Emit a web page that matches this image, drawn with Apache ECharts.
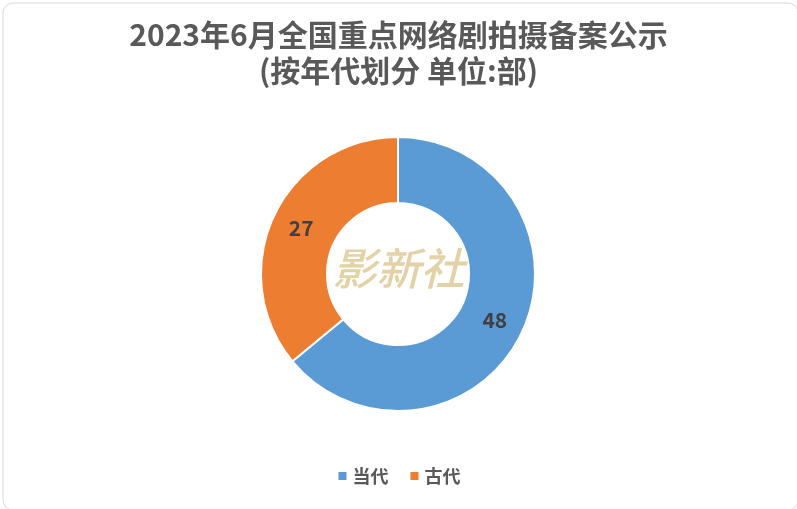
<!DOCTYPE html>
<html>
<head>
<meta charset="utf-8">
<script src="https://cdn.jsdelivr.net/npm/echarts@6/dist/echarts.min.js"></script>
<style>
html,body{margin:0;padding:0;background:#fff;}
#chart{width:797px;height:509px;}
</style>
</head>
<body>
<div id="chart"></div>
<script>
const titleLines = ['2023年6月全国重点网络剧拍摄备案公示', '(按年代划分 单位:部)'];
const categories = ['当代', '古代'];
const values = [48, 27];
const colors = ['#5B9BD5', '#ED7D31'];
const watermark = '影新社';

const FONT = '"Noto Sans CJK SC", "Noto Sans", sans-serif';
const chart = echarts.init(document.getElementById('chart'), null, {renderer: 'canvas'});
chart.setOption({
  backgroundColor: '#fff',
  title: {
    text: titleLines.join('\n'),
    left: 'center',
    top: 12,
    textStyle: {
      fontFamily: FONT, fontSize: 30, fontWeight: 'bold', color: '#595959', lineHeight: 36
    }
  },
  legend: {
    data: categories,
    top: 462,
    left: 'center',
    icon: 'rect',
    itemWidth: 10,
    itemHeight: 10,
    itemGap: 20,
    textStyle: {fontFamily: FONT, fontSize: 18, fontWeight: 'bold', color: '#595959'}
  },
  graphic: [
    {
      type: 'rect', left: 0.5, top: 0.5, silent: true, z: -1,
      shape: {width: 795, height: 507, r: 10},
      style: {fill: 'none', stroke: '#D9D9D9', lineWidth: 1}
    },
    {
      type: 'text', left: 'center', top: 246, z: 10, silent: true,
      style: {
        text: watermark, fill: '#E2D2A6',
        font: 'italic 500 44px "Noto Sans CJK SC", serif'
      }
    }
  ],
  series: [{
    type: 'pie',
    center: [398, 274],
    radius: [71, 137],
    startAngle: 90,
    clockwise: true,
    avoidLabelOverlap: false,
    itemStyle: {borderColor: '#fff', borderWidth: 2},
    label: {
      show: true, position: 'inside', formatter: '{c}',
      fontFamily: FONT, fontSize: 21, fontWeight: 'bold', color: '#404040'
    },
    labelLine: {show: false},
    emphasis: {disabled: true},
    data: categories.map((c, i) => ({name: c, value: values[i], itemStyle: {color: colors[i]}}))
  }]
});
</script>
</body>
</html>
